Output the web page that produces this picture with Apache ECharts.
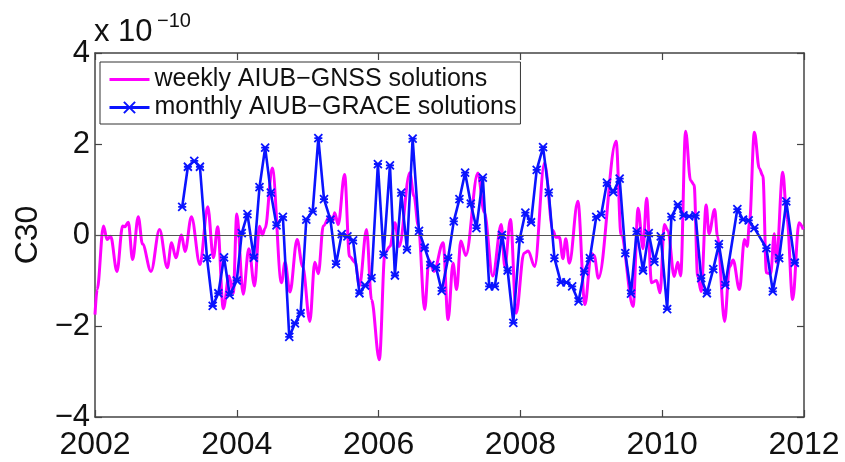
<!DOCTYPE html>
<html>
<head>
<meta charset="utf-8">
<script src="https://cdn.jsdelivr.net/npm/echarts@6/dist/echarts.min.js"></script>
<style>
html,body{margin:0;padding:0;background:#fff;}
#chart{width:845px;height:462px;}
</style>
</head>
<body>
<div id="chart"></div>
<script>
// x ticks / y ticks
const xTicks = [2002, 2004, 2006, 2008, 2010, 2012];
const yTicks = [-4, -2, 0, 2, 4];

// weekly AIUB-GNSS (read at turning points), units 1e-10
const weeklyYears = [
  2002.00, 2002.03, 2002.12, 2002.17, 2002.22, 2002.31, 2002.39, 2002.42, 2002.47, 2002.53,
  2002.61, 2002.67, 2002.79, 2002.91, 2003.02, 2003.08, 2003.14, 2003.22, 2003.27, 2003.36,
  2003.48, 2003.59, 2003.67, 2003.73, 2003.81, 2003.89, 2003.95, 2004.00, 2004.09, 2004.17,
  2004.25, 2004.32, 2004.36, 2004.40, 2004.50, 2004.63, 2004.68, 2004.75, 2004.85, 2004.93,
  2005.03, 2005.10, 2005.15, 2005.22, 2005.31, 2005.35, 2005.38, 2005.43, 2005.52, 2005.59,
  2005.67, 2005.73, 2005.83, 2005.90, 2006.01, 2006.09, 2006.16, 2006.23, 2006.29, 2006.44,
  2006.50, 2006.56, 2006.65, 2006.71, 2006.78, 2006.91, 2006.98, 2007.05, 2007.10, 2007.16,
  2007.23, 2007.40, 2007.49, 2007.61, 2007.73, 2007.78, 2007.86, 2007.94, 2008.05, 2008.11,
  2008.20, 2008.34, 2008.46, 2008.50, 2008.55, 2008.60, 2008.64, 2008.69, 2008.81, 2008.91,
  2009.00, 2009.04, 2009.10, 2009.35, 2009.42, 2009.59, 2009.66, 2009.73, 2009.78, 2009.85,
  2009.92, 2009.97, 2010.03, 2010.08, 2010.17, 2010.22, 2010.26, 2010.33, 2010.40, 2010.45,
  2010.50, 2010.55, 2010.62, 2010.66, 2010.74, 2010.78, 2010.88, 2010.95, 2011.00, 2011.09,
  2011.16, 2011.20, 2011.23, 2011.30, 2011.37, 2011.42, 2011.47, 2011.53, 2011.58, 2011.61,
  2011.70, 2011.76, 2011.84, 2011.93, 2011.99
];
const weeklyValues = [
  -1.75, -1.20, 0.20, -0.10, -0.03, -0.80, 0.20, 0.18, 0.28, -0.54,
  0.40, -0.20, -0.80, 0.12, -0.72, -0.17, -0.50, 0.00, -0.36, 0.40,
  -0.65, 0.62, -0.50, 0.18, -1.62, -0.90, -1.28, 0.46, -1.30, -0.30,
  -1.12, 0.19, 0.00, 0.15, 1.47, -1.05, -0.60, -1.25, -0.10, -0.70,
  -1.90, -0.60, -0.85, 0.20, 0.41, 0.30, 0.49, 0.23, 1.33, -0.47,
  -0.60, -1.12, 0.12, -1.42, -2.74, -0.39, -0.25, 0.27, -0.25, 1.37,
  0.85, 0.20, -1.64, -0.55, -0.80, -0.17, -1.86, -0.62, -1.20, -0.13,
  -0.45, 1.36, 0.50, -0.90, 0.23, -0.70, 0.34, -1.72, -0.40, -0.35,
  -0.69, 1.58, 0.10, -0.05, -0.05, -0.52, -0.08, -0.62, 0.74, -1.53,
  -0.40, -0.45, -0.95, 2.06, 0.00, -1.57, 0.59, -0.30, 0.81, -1.05,
  -1.00, -1.27, 0.23, 0.10, -0.91, -0.60, -0.90, 2.28, 1.20, 1.10,
  -0.91, -1.24, 0.66, 0.03, 0.56, -0.03, -1.90, -0.70, -0.55, -1.20,
  -0.10, -0.25, 0.26, 2.26, 1.46, 1.30, -0.83, -0.85, 0.03, -0.60,
  1.38, 0.37, -1.42, 0.27, 0.12
];

// monthly AIUB-GRACE, units 1e-10
const monthlyYears = [
  2003.23, 2003.31, 2003.40, 2003.48, 2003.58, 2003.66, 2003.74, 2003.82, 2003.90, 2004.00,
  2004.07, 2004.15, 2004.24, 2004.32, 2004.40, 2004.48, 2004.56, 2004.65, 2004.74, 2004.82,
  2004.90, 2004.98, 2005.07, 2005.15, 2005.23, 2005.32, 2005.40, 2005.48, 2005.56, 2005.64,
  2005.73, 2005.81, 2005.90, 2005.99, 2006.07, 2006.16, 2006.23, 2006.32, 2006.40, 2006.48,
  2006.57, 2006.65, 2006.73, 2006.81, 2006.89, 2006.98, 2007.06, 2007.14, 2007.22, 2007.30,
  2007.38, 2007.47, 2007.56, 2007.64, 2007.74, 2007.82, 2007.90, 2007.99, 2008.07, 2008.15,
  2008.23, 2008.32, 2008.40, 2008.48, 2008.57, 2008.65, 2008.73, 2008.82, 2008.90, 2008.98,
  2009.07, 2009.14, 2009.22, 2009.31, 2009.40, 2009.48, 2009.56, 2009.64, 2009.73, 2009.81,
  2009.89, 2009.98, 2010.07, 2010.13, 2010.22, 2010.30, 2010.38, 2010.47, 2010.55, 2010.63,
  2010.72, 2010.80, 2010.89, 2011.06, 2011.14, 2011.22, 2011.30, 2011.47, 2011.56, 2011.65,
  2011.75, 2011.87
];
const monthlyValues = [
  0.62, 1.50, 1.63, 1.50, -0.51, -1.56, -1.28, -0.49, -1.32, -1.00,
  0.04, 0.46, -0.50, 1.05, 1.92, 0.93, 0.21, 0.40, -2.24, -1.94,
  -1.72, 0.34, 0.52, 2.13, 0.79, 0.34, -0.64, 0.02, -0.03, -0.12,
  -1.28, -1.11, -0.95, 1.56, -0.43, 1.53, -0.89, 0.93, -0.32, 2.12,
  0.09, -0.28, -0.66, -0.71, -1.23, -0.51, 0.30, 0.79, 1.37, 0.69,
  0.15, 1.26, -1.13, -1.13, 0.00, -0.78, -1.93, -0.09, 0.49, 0.28,
  1.43, 1.93, 0.93, -0.51, -1.04, -1.04, -1.13, -1.46, -0.80, -0.51,
  0.40, 0.45, 1.15, 0.94, 1.24, -0.40, -1.29, 0.08, -0.78, 0.04,
  -0.59, -0.03, -1.63, 0.40, 0.67, 0.43, 0.41, 0.43, -0.95, -1.28,
  -0.75, -0.20, -1.10, 0.57, 0.34, 0.32, 0.15, -0.29, -1.24, -0.51,
  0.74, -0.61
];

const weeklyData = weeklyYears.map((x, i) => [x, weeklyValues[i]]);
const monthlyData = monthlyYears.map((x, i) => [x, monthlyValues[i]]);

const FONT = '"Liberation Sans", Arial, sans-serif';
const axisColor = '#444';
const fmtNum = v => String(v).replace('-', '\u2212');
const NAME_W = 'weekly AIUB\u2212GNSS solutions';
const NAME_M = 'monthly AIUB\u2212GRACE solutions';

const chart = echarts.init(document.getElementById('chart'), null, {renderer: 'canvas'});
const baseX = {
  type: 'value', min: xTicks[0], max: xTicks[xTicks.length - 1], interval: 2,
  splitLine: {show: false},
  axisLine: {show: true, onZero: false, lineStyle: {color: axisColor, width: 1.5}},
  axisTick: {show: true, inside: true, length: 7, lineStyle: {color: axisColor, width: 1.2}}
};
const baseY = {
  type: 'value', min: yTicks[0], max: yTicks[yTicks.length - 1], interval: 2,
  splitLine: {show: false},
  axisLine: {show: true, onZero: false, lineStyle: {color: axisColor, width: 1.5}},
  axisTick: {show: true, inside: true, length: 7, lineStyle: {color: axisColor, width: 1.2}}
};

chart.setOption({
  animation: false,
  backgroundColor: '#fff',
  grid: {left: 95, right: 41, top: 53, bottom: 45, containLabel: false},
  xAxis: [
    Object.assign({}, baseX, {
      position: 'bottom',
      axisLabel: {show: true, fontFamily: FONT, fontSize: 32, color: '#111', margin: 12,
                  formatter: v => String(v)}
    }),
    Object.assign({}, baseX, {position: 'top', axisLabel: {show: false}})
  ],
  yAxis: [
    Object.assign({}, baseY, {
      position: 'left',
      name: 'C30', nameLocation: 'middle', nameGap: 48, nameRotate: 90,
      nameTextStyle: {fontFamily: FONT, fontSize: 32, color: '#111'},
      axisLabel: {show: true, fontFamily: FONT, fontSize: 31, color: '#111', margin: 5,
                  formatter: v => fmtNum(v)}
    }),
    Object.assign({}, baseY, {position: 'right', axisLabel: {show: false}})
  ],
  legend: {
    orient: 'vertical', left: 100, top: 62,
    backgroundColor: '#fff', borderColor: '#333', borderWidth: 1,
    padding: [5, 4, 4, 8], itemGap: 3, itemWidth: 40, itemHeight: 14,
    lineStyle: {width: 3},
    textStyle: {fontFamily: FONT, fontSize: 25, color: '#111'},
    data: [
      {name: NAME_W, itemStyle: {color: 'rgba(0,0,0,0)', borderColor: 'rgba(0,0,0,0)', borderWidth: 0}},
      {name: NAME_M}
    ]
  },
  graphic: [
    {type: 'text', left: 94, top: 17,
     style: {text: 'x 10', font: '31px ' + FONT, fill: '#111'}},
    {type: 'text', left: 157, top: 11,
     style: {text: '\u221210', font: '20px ' + FONT, fill: '#111'}}
  ],
  series: [
    {
      name: NAME_W, type: 'line',
      xAxisIndex: 0, yAxisIndex: 0,
      data: weeklyData, smooth: 0.35, smoothMonotone: 'x',
      showSymbol: false, symbol: 'none',
      lineStyle: {color: '#ff00ff', width: 3},
      itemStyle: {color: '#ff00ff'},
      markLine: {
        silent: true, symbol: 'none', label: {show: false},
        lineStyle: {color: '#555', width: 1.2, type: 'solid'},
        data: [{yAxis: 0}]
      },
      z: 2
    },
    {
      name: NAME_M, type: 'line',
      xAxisIndex: 0, yAxisIndex: 0,
      data: monthlyData, smooth: false,
      symbol: 'path://M0,0L10,10M10,0L0,10M0,5L10,5', symbolSize: 8,
      showSymbol: true,
      lineStyle: {color: '#0a14ff', width: 2.6},
      itemStyle: {color: '#0a14ff', borderColor: '#0a14ff', borderWidth: 1.8},
      z: 3
    }
  ]
});
</script>
</body>
</html>
